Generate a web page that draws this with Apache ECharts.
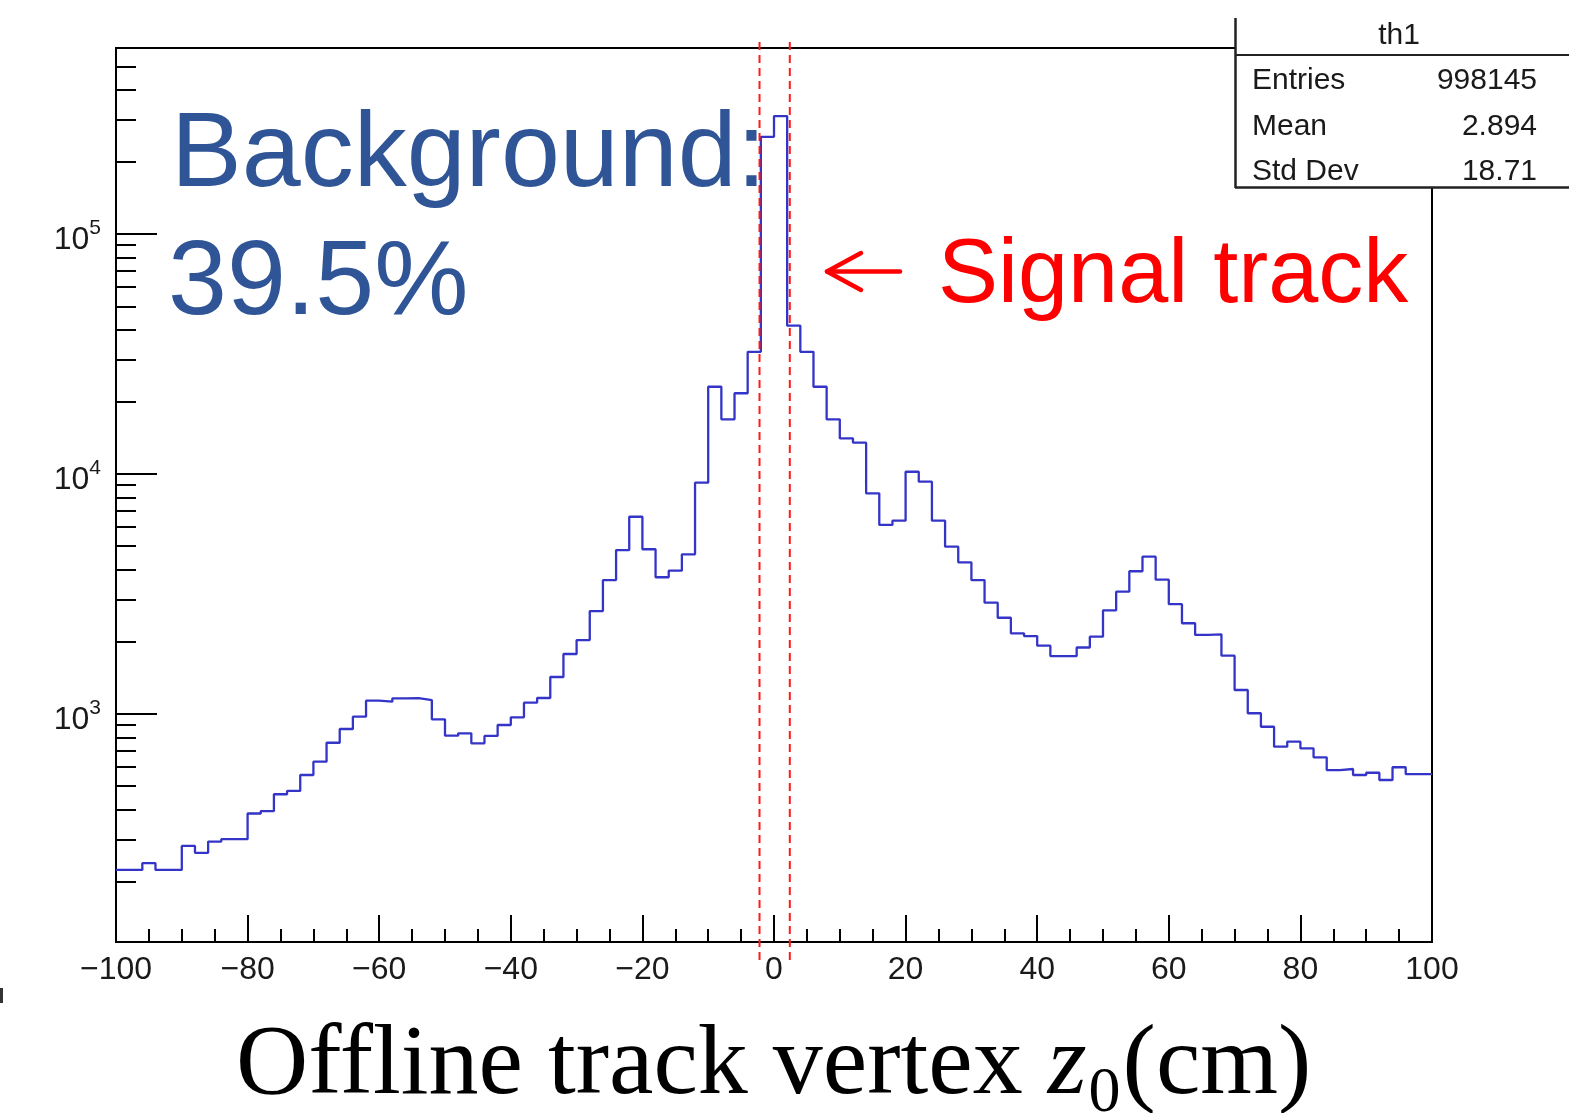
<!DOCTYPE html>
<html><head><meta charset="utf-8">
<script src="https://cdn.jsdelivr.net/npm/echarts@6/dist/echarts.min.js"></script>
<style>html,body{margin:0;padding:0;background:#fff;}#c{width:1569px;height:1113px;}</style>
</head><body><div id="c"></div>
<script>
// Histogram definition
const xMin = -100, xMax = 100, binWidth = 2;
// bin contents (100 bins, 2 cm wide)
const counts = [
  224, 224, 239, 224, 224, 282, 264, 294, 301, 301,
  385, 394, 463, 478, 557, 633, 759, 866, 975, 1136,
  1125, 1162, 1165, 1143, 950, 812, 831, 755, 810, 900,
  969, 1115, 1166, 1426, 1778, 2032, 2685, 3616, 4822, 6637,
  4857, 3713, 3956, 4628, 9199, 23100, 16900, 21700, 32300, 254000,
  310000, 41500, 32300, 23100, 16900, 14080, 13500, 8310, 6133, 6390,
  10220, 9290, 6390, 4980, 4285, 3616, 2909, 2518, 2168, 2113,
  1926, 1744, 1744, 1893, 2100, 2704, 3233, 3933, 4523, 3627,
  2868, 2388, 2135, 2148, 1750, 1259, 1007, 885, 731, 767,
  719, 660, 584, 590, 557, 569, 531, 600, 562, 562
];
const yMin = 112.2, yMax = 595700;
const xTickInterval = 20;
const majorYTicks = [1000, 10000, 100000];
const minorYTicks = [200,300,400,500,600,700,800,900,
  2000,3000,4000,5000,6000,7000,8000,9000,
  20000,30000,40000,50000,60000,70000,80000,90000,
  200000,300000,400000,500000];
const signalWindow = [-2.2, 2.4];
const statsTitle = 'th1';
const statsRows = [['Entries','998145'],['Mean','2.894'],['Std Dev','18.71']];

const stepData = counts.map((c, i) => [xMin + i * binWidth, c]);
stepData.push([xMax, counts[counts.length - 1]]);

const chart = echarts.init(document.getElementById('c'), null, {renderer: 'canvas'});
const TXT = '#1a1a1a';
const SANS = 'Liberation Sans, Arial, sans-serif';
const SERIF = 'Liberation Serif, serif';

const statsGraphics = [
  {type:'rect', shape:{x:1236, y:0, width:340, height:187}, style:{fill:'#fff'}, z:100},
  {type:'line', shape:{x1:1235.5, y1:18, x2:1235.5, y2:188}, style:{stroke:'#222', lineWidth:2.5}, z:101},
  {type:'line', shape:{x1:1235, y1:187.5, x2:1569, y2:187.5}, style:{stroke:'#222', lineWidth:2.5}, z:101},
  {type:'line', shape:{x1:1235, y1:55, x2:1569, y2:55}, style:{stroke:'#222', lineWidth:2}, z:101},
  {type:'text', x:1399, y:21, style:{text:statsTitle, font:'30px ' + SANS, fill:TXT, align:'center', verticalAlign:'top'}, z:102}
];
statsRows.forEach((r, i) => {
  const top = 66 + i * 45.3;
  statsGraphics.push({type:'text', x:1252, y:top, style:{text:r[0], font:'30px ' + SANS, fill:TXT, align:'left', verticalAlign:'top'}, z:102});
  statsGraphics.push({type:'text', x:1537, y:top, style:{text:r[1], font:'30px ' + SANS, fill:TXT, align:'right', verticalAlign:'top'}, z:102});
});

const option = {
  animation: false,
  backgroundColor: '#fff',
  grid: {left:116, right:137, top:48, bottom:171, show:true, borderColor:'#000', borderWidth:2, backgroundColor:'transparent', outerBoundsMode:'none'},
  xAxis: {
    type:'value', min:xMin, max:xMax, interval:xTickInterval,
    axisLine:{show:true, onZero:false, lineStyle:{color:'#000', width:2}},
    axisTick:{show:true, inside:true, length:27, lineStyle:{color:'#000', width:2}},
    minorTick:{show:true, splitNumber:4, length:13, lineStyle:{color:'#000', width:2}},
    axisLabel:{show:true, showMinLabel:true, showMaxLabel:true, fontSize:32, fontFamily:SANS, color:TXT, margin:12,
      formatter: v => String(v).replace('-', '\u2212')},
    splitLine:{show:false}, minorSplitLine:{show:false}
  },
  yAxis: [
    {
      type:'log', logBase:10, min:yMin, max:yMax, position:'left',
      axisLine:{show:true, onZero:false, lineStyle:{color:'#000', width:2}},
      axisTick:{show:true, inside:true, length:41, customValues:majorYTicks, lineStyle:{color:'#000', width:2}},
      axisLabel:{show:true, customValues:majorYTicks, margin:15,
        formatter: v => '{b|10}{s|' + Math.round(Math.log10(v)) + '}',
        rich:{
          b:{fontSize:32, fontFamily:SANS, color:TXT, lineHeight:32, padding:[6,0,0,0], verticalAlign:'top'},
          s:{fontSize:21, fontFamily:SANS, color:TXT, lineHeight:21, verticalAlign:'top'}
        }},
      splitLine:{show:false}, minorTick:{show:false}
    },
    {
      type:'log', logBase:10, min:yMin, max:yMax, position:'left', offset:0,
      axisLine:{show:false, onZero:false},
      axisTick:{show:true, inside:true, length:20, customValues:minorYTicks, lineStyle:{color:'#000', width:2}},
      axisLabel:{show:false},
      splitLine:{show:false}, minorTick:{show:false}
    }
  ],
  series: [
    {
      type:'line', step:'end', data:stepData, showSymbol:false, symbol:'none',
      lineStyle:{color:'#3434c8', width:2.3}, clip:true, z:3
    },
    {
      type:'custom', clip:false, z:4,
      data: signalWindow.map(v => [v, 1000]),
      renderItem: (params, api) => {
        const x = api.coord([api.value(0), 1000])[0];
        const cs = params.coordSys;
        return {type:'line', shape:{x1:x, y1:cs.y - 6, x2:x, y2:cs.y + cs.height + 20},
          style:{stroke:'#ff1a1a', lineWidth:2, lineDash:[8,5]}};
      }
    }
  ],
  graphic: [
    {type:'text', x:171, y:104, style:{text:'Background:', font:'106px ' + SANS, fill:'#2f5597', align:'left', verticalAlign:'top'}, z:50},
    {type:'text', x:168, y:232, style:{text:'39.5%', font:'106px ' + SANS, fill:'#2f5597', align:'left', verticalAlign:'top'}, z:50},
    {type:'text', x:938, y:232, style:{text:'Signal track', font:'90px ' + SANS, fill:'#ff0000', align:'left', verticalAlign:'top'}, z:50},
    {type:'polyline', shape:{points:[[900,271.5],[827,271.5]]}, style:{stroke:'#ff0000', lineWidth:4.5, lineCap:'round', fill:null}, z:50},
    {type:'polyline', shape:{points:[[861,253],[827,271.5],[861,290]]}, style:{stroke:'#ff0000', lineWidth:4.5, lineCap:'round', lineJoin:'round', fill:null}, z:50},
    {type:'text', x:236, y:1017, style:{
      text:'{a|Offline track vertex }{z|z}{s|0}{a|(cm)}', verticalAlign:'top', align:'left',
      rich:{
        a:{fontSize:100, fontFamily:SERIF, fill:'#000', lineHeight:100, verticalAlign:'top'},
        z:{fontSize:100, fontFamily:SERIF, fontStyle:'italic', fill:'#000', lineHeight:100, verticalAlign:'top'},
        s:{fontSize:64, fontFamily:SERIF, fill:'#000', lineHeight:64, padding:[45,2,0,2], verticalAlign:'top'}
      }}, z:50},
    {type:'rect', shape:{x:0, y:988, width:3, height:15}, style:{fill:'#333'}, z:50}
  ].concat(statsGraphics)
};
chart.setOption(option);
</script>
</body></html>
